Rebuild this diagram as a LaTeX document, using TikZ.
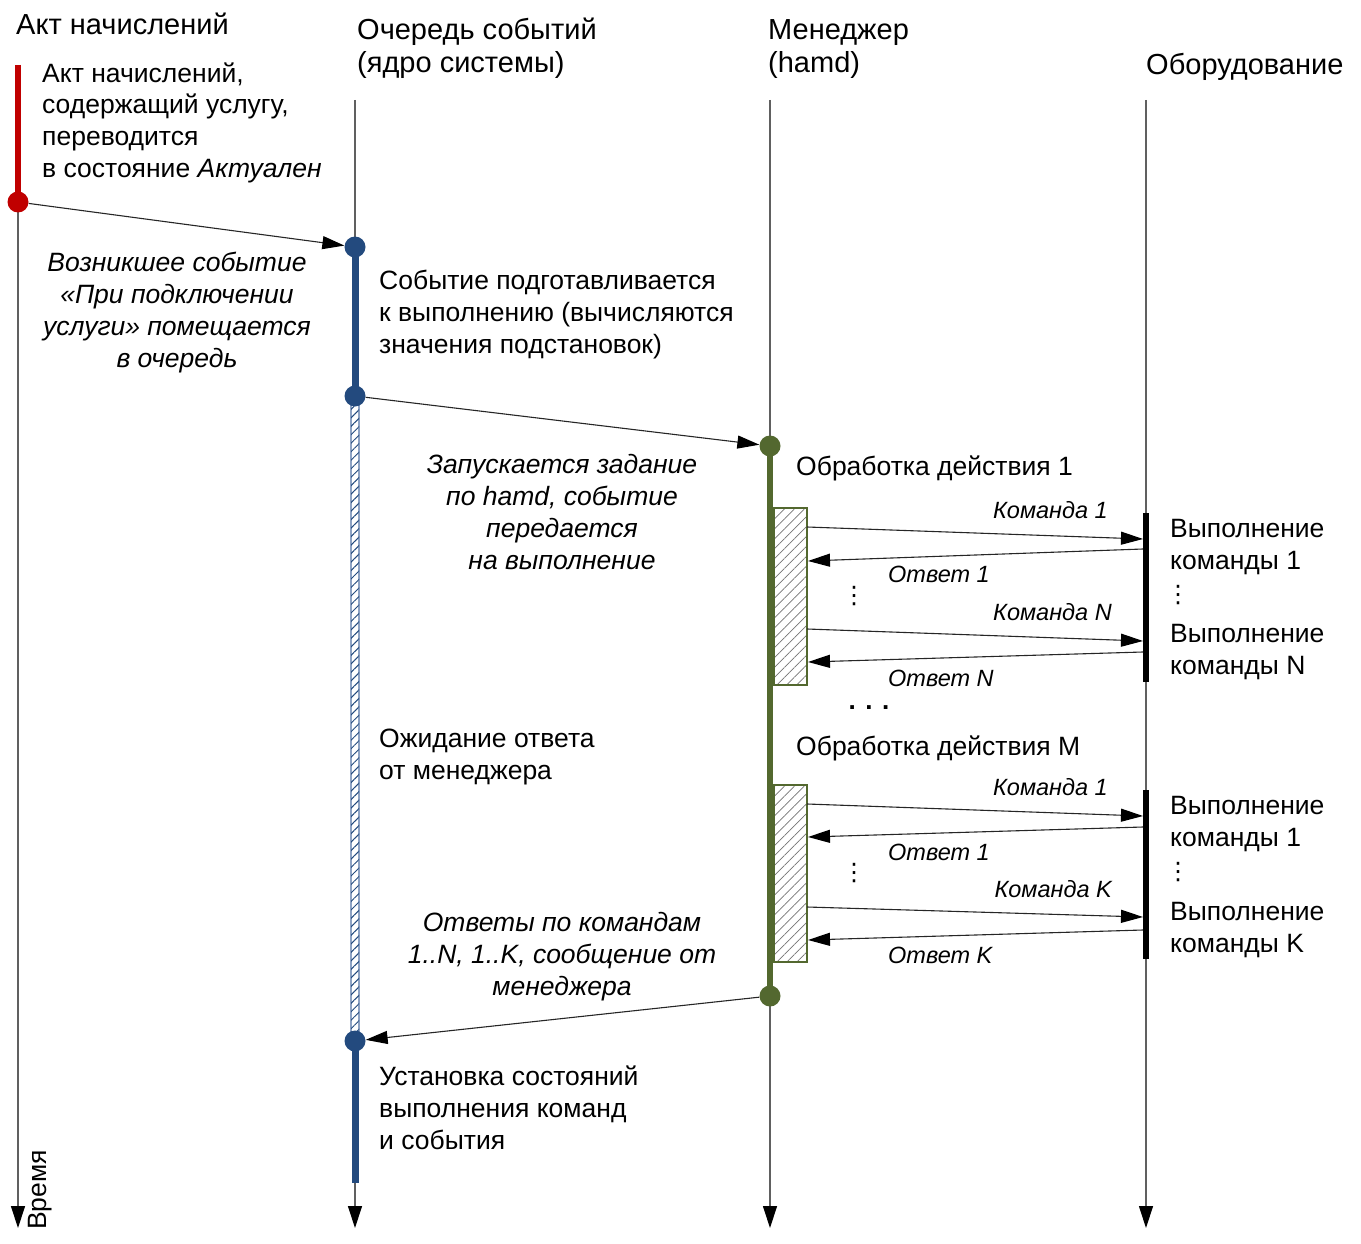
\documentclass[tikz,border=0pt]{standalone}
\usepackage{fontspec}
\setmainfont{Liberation Sans}
\newfontfamily\dejavu{DejaVu Sans}
\usetikzlibrary{arrows.meta,patterns.meta}
\definecolor{cred}{HTML}{C00000}
\definecolor{cblue}{HTML}{234A7E}
\definecolor{cgreen}{HTML}{53682F}
\definecolor{cline}{HTML}{606060}
\definecolor{chatchb}{HTML}{8EA3C4}
\pgfdeclarelayer{bg}
\pgfsetlayers{bg,main}
\begin{document}
\begin{tikzpicture}[x=1pt,y=-1pt,
  life/.style={draw=cline, line width=1.2pt, -{Triangle[length=22pt,width=14pt,color=black]}},
  msg/.style={draw=black!85, line width=1.1pt, -{Triangle[length=22pt,width=13pt,color=black]}},
  dot/.style={circle, inner sep=0pt, minimum size=21pt, fill=#1},
  head/.style={font=\fontsize{29}{33}\selectfont, inner sep=0pt, align=left},
  txt/.style={font=\fontsize{26.5}{32}\selectfont, inner sep=0pt, align=left},
  ctxt/.style={font=\fontsize{26.5}{32}\selectfont\itshape, inner sep=0pt, align=center},
  lbl/.style={font=\fontsize{23.5}{26}\selectfont\itshape, inner sep=0pt},
  vdots/.style={font=\dejavu\fontsize{24}{26}\selectfont, inner sep=0pt},
  hatchg/.style={draw=cgreen, line width=2pt, fill=white, pattern={Lines[angle=45,distance=7pt,line width=0.7pt]}, pattern color=black!55, inner sep=0pt, minimum width=33pt, minimum height=177pt},
  eqbar/.style={draw=none, fill=black, inner sep=0pt, minimum width=6pt, minimum height=169pt}
]
\useasboundingbox (0,0) rectangle (1361,1244);

% ---------- dots ----------
\node[dot=cred]   (r1) at (18,202) {};
\node[dot=cblue]  (q1) at (355,247) {};
\node[dot=cblue]  (q2) at (355,396) {};
\node[dot=cblue]  (q3) at (355,1041) {};
\node[dot=cgreen] (m1) at (770,446) {};
\node[dot=cgreen] (m2) at (770,996) {};

% ---------- coordinates ----------
\coordinate (a1top) at (18,65);
\coordinate (a1end) at (18,1228);
\coordinate (q0) at (355,100);
\coordinate (qend) at (355,1228);
\coordinate (qbarend) at (355,1183);
\coordinate (m0) at (770,100);
\coordinate (mend) at (770,1228);
\coordinate (e0) at (1146,100);
\coordinate (eend) at (1146,1228);

% ---------- activation boxes ----------
\node[hatchg] (h1) at (790.5,596.5) {};
\node[hatchg] (h2) at (790.5,873.5) {};
\node[eqbar] (b1) at (1146,597.5) {};
\node[eqbar] (b2) at (1146,874.5) {};

\begin{pgfonlayer}{bg}
  \draw[life] (r1.center) -- (a1end);
  \draw[life] (q0) -- (qend);
  \draw[life] (m0) -- (mend);
  \draw[life] (e0) -- (eend);
  \draw[cred, line width=6pt] (a1top) -- (r1.center);
  \draw[cblue, line width=7pt] (q1.center) -- (q2.center);
  \draw[cblue, line width=7pt] (q3.center) -- (qbarend);
  \draw[cgreen, line width=6pt] (m1.center) -- (m2.center);
  \path[draw=chatchb, line width=1.5pt, fill=white] (351,396) rectangle (359,1041);
  \path[pattern={Lines[angle=45,distance=6pt,line width=1pt]}, pattern color=cblue] (351,396) rectangle (359,1041);
\end{pgfonlayer}

% ---------- messages ----------
\draw[msg] (r1) -- (q1);
\draw[msg] (q2) -- (m1);
\draw[msg] (m2) -- (q3);

\coordinate (c1a) at (807,527);  \coordinate (c1b) at (1143,539);
\coordinate (o1a) at (1143,549); \coordinate (o1b) at (808,561);
\coordinate (cNa) at (807,629);  \coordinate (cNb) at (1143,641);
\coordinate (oNa) at (1143,652); \coordinate (oNb) at (808,662);
\coordinate (d1a) at (807,804);  \coordinate (d1b) at (1143,816);
\coordinate (p1a) at (1143,827); \coordinate (p1b) at (808,837);
\coordinate (dKa) at (807,907);  \coordinate (dKb) at (1143,917);
\coordinate (pKa) at (1143,930); \coordinate (pKb) at (808,940);
\draw[msg] (c1a) -- (c1b);
\draw[msg] (o1a) -- (o1b);
\draw[msg] (cNa) -- (cNb);
\draw[msg] (oNa) -- (oNb);
\draw[msg] (d1a) -- (d1b);
\draw[msg] (p1a) -- (p1b);
\draw[msg] (dKa) -- (dKb);
\draw[msg] (pKa) -- (pKb);

% ---------- headings (base = baseline of last line) ----------
\node[head, anchor=base west] (hd1) at (16,35) {Акт начислений};
\node[head, anchor=base west] (hd2) at (357,73) {Очередь событий\\(ядро системы)};
\node[head, anchor=base west] (hd3) at (768,73) {Менеджер\\(hamd)};
\node[head, anchor=base west] (hd4) at (1146,75) {Оборудование};
\node[txt, rotate=90] (time) at (40,1190) {Время};

% ---------- texts ----------
\node[txt, anchor=base west] (t1) at (42,178) {Акт начислений,\\содержащий услугу,\\переводится\\в состояние \textit{Актуален}};
\node[ctxt, anchor=base] (t2) at (177,367) {Возникшее событие\\«При подключении\\услуги» помещается\\в очередь};
\node[txt, anchor=base west] (t3) at (379,353) {Событие подготавливается\\к выполнению (вычисляются\\значения подстановок)};
\node[ctxt, anchor=base] (t4) at (562,569) {Запускается задание\\по hamd, событие\\передается\\на выполнение};
\node[txt, anchor=base west] (t5) at (796,475) {Обработка действия 1};
\node[txt, anchor=base west] (t6) at (1170,569) {Выполнение\\команды 1};
\node[txt, anchor=base west] (t7) at (1170,674) {Выполнение\\команды N};
\node[txt, anchor=base west] (t8) at (379,779) {Ожидание ответа\\от менеджера};
\node[txt, anchor=base west] (t9) at (796,755) {Обработка действия M};
\node[txt, anchor=base west] (t10) at (1170,846) {Выполнение\\команды 1};
\node[txt, anchor=base west] (t11) at (1170,952) {Выполнение\\команды K};
\node[ctxt, anchor=base] (t12) at (562,995) {Ответы по командам\\1..N, 1..K, сообщение от\\менеджера};
\node[txt, anchor=base west] (t13) at (379,1149) {Установка состояний\\выполнения команд\\и события};

% ---------- labels ----------
\node[lbl, anchor=base east] (l1) at (1108,518) {Команда 1};
\node[lbl, anchor=base west] (l2) at (888,582) {Ответ 1};
\node[lbl, anchor=base east] (l3) at (1112,620) {Команда N};
\node[lbl, anchor=base west] (l4) at (888,686) {Ответ N};
\node[lbl, anchor=base east] (l5) at (1108,795) {Команда 1};
\node[lbl, anchor=base west] (l6) at (888,860) {Ответ 1};
\node[lbl, anchor=base east] (l7) at (1112,897) {Команда K};
\node[lbl, anchor=base west] (l8) at (888,963) {Ответ K};

\node[vdots] (v1) at (854,596) {⋮};
\node[vdots] (v2) at (1178,595) {⋮};
\node[vdots] (v3) at (854,873) {⋮};
\node[vdots] (v4) at (1178,872) {⋮};
\node[font=\fontsize{26}{26}\selectfont\bfseries, inner sep=0pt] (dd) at (869,708) {. . .};
\end{tikzpicture}
\end{document}
